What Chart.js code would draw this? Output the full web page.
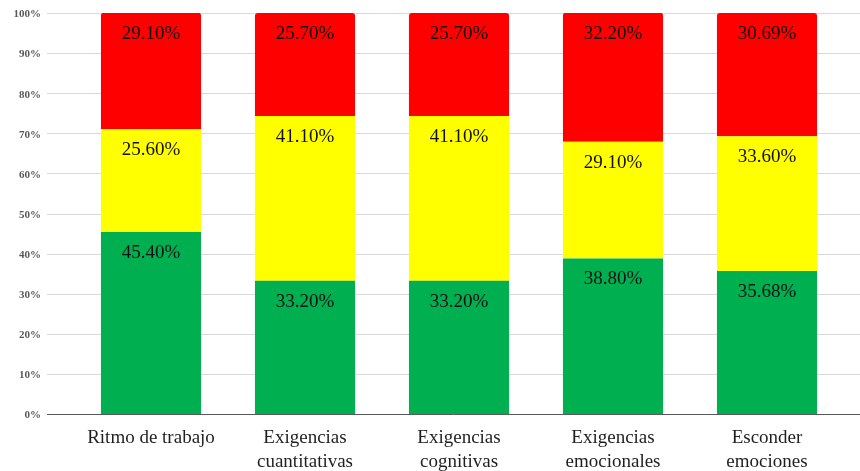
<!DOCTYPE html>
<html>
<head>
<meta charset="utf-8">
<script src="https://cdn.jsdelivr.net/npm/chart.js@4/dist/chart.umd.min.js"></script>
<style>
  html, body { margin: 0; padding: 0; background: #fff; }
  #wrap { width: 860px; height: 471px; }
</style>
</head>
<body>
<div id="wrap"><canvas id="chart"></canvas></div>
<script>
// categories and series (percent)
const categories = [
  "Ritmo de trabajo",
  ["Exigencias", "cuantitativas"],
  ["Exigencias", "cognitivas"],
  ["Exigencias", "emocionales"],
  ["Esconder", "emociones"],
];
const greenValues = [45.4, 33.2, 33.2, 38.8, 35.68];
const yellowValues = [25.6, 41.1, 41.1, 29.1, 33.6];
const redValues = [29.1, 25.7, 25.7, 32.2, 30.69];
const tickValues = [0, 10, 20, 30, 40, 50, 60, 70, 80, 90, 100];

const SERIF = "'Liberation Serif', 'Times New Roman', serif";

// grid lines that run past the category area, plus the bottom axis line
const gridPlugin = {
  id: "fullGrid",
  beforeDatasetsDraw(chart) {
    const { ctx } = chart;
    const y = chart.scales.y;
    ctx.save();
    ctx.lineWidth = 1;
    tickValues.forEach((v) => {
      const py = Math.round(y.getPixelForValue(v)) + 0.5;
      ctx.strokeStyle = v === 0 ? "#595959" : "#d9d9d9";
      ctx.beginPath();
      ctx.moveTo(47, py);
      ctx.lineTo(chart.width, py);
      ctx.stroke();
    });
    ctx.restore();
  },
};

// value labels near the top of every segment
const labelPlugin = {
  id: "segLabels",
  afterDatasetsDraw(chart) {
    const { ctx } = chart;
    ctx.save();
    ctx.font = "19px " + SERIF;
    ctx.fillStyle = "#111";
    ctx.textAlign = "center";
    ctx.textBaseline = "middle";
    chart.data.datasets.forEach((ds, di) => {
      chart.getDatasetMeta(di).data.forEach((bar, i) => {
        const top = Math.max(bar.y, chart.chartArea.top);
        ctx.fillText(ds.data[i].toFixed(2) + "%", bar.x, top + 21);
      });
    });
    ctx.restore();
  },
};

new Chart(document.getElementById("chart"), {
  type: "bar",
  data: {
    labels: categories,
    datasets: [
      { label: "Bajo", data: greenValues, backgroundColor: "#00b050" },
      { label: "Medio", data: yellowValues, backgroundColor: "#ffff00" },
      {
        label: "Alto",
        data: redValues,
        backgroundColor: "#ff0000",
        borderRadius: { topLeft: 3, topRight: 3, bottomLeft: 0, bottomRight: 0 },
        borderSkipped: false,
      },
    ],
  },
  options: {
    responsive: true,
    maintainAspectRatio: false,
    animation: false,
    layout: { padding: { top: 13, right: 16, bottom: 0, left: 0 } },
    datasets: { bar: { categoryPercentage: 1, barPercentage: 0.65 } },
    plugins: { legend: { display: false }, tooltip: { enabled: false } },
    scales: {
      x: {
        stacked: true,
        afterFit(scale) {
          scale.height = 57;
          scale.paddingTop = 0;
          scale.paddingBottom = 0;
          scale.paddingLeft = 0;
          scale.paddingRight = 0;
        },
        grid: { display: false, drawTicks: false },
        border: { display: false },
        ticks: {
          padding: 12,
          color: "#1f1f1f",
          font: { family: SERIF, size: 19, lineHeight: 1.25 },
          maxRotation: 0,
          autoSkip: false,
        },
      },
      y: {
        stacked: true,
        min: 0,
        max: 100,
        afterFit(scale) {
          scale.width = 74;
          scale.paddingTop = 0;
          scale.paddingBottom = 0;
        },
        grid: { display: false, drawTicks: false },
        border: { display: false },
        afterBuildTicks(scale) { scale.ticks = tickValues.map((v) => ({ value: v })); },
        ticks: {
          padding: 33,
          labelOffset: 1.5,
          color: "#595959",
          font: { family: SERIF, size: 11, weight: "bold" },
          callback: (v) => v + "%",
        },
      },
    },
  },
  plugins: [gridPlugin, labelPlugin],
});
</script>
</body>
</html>
